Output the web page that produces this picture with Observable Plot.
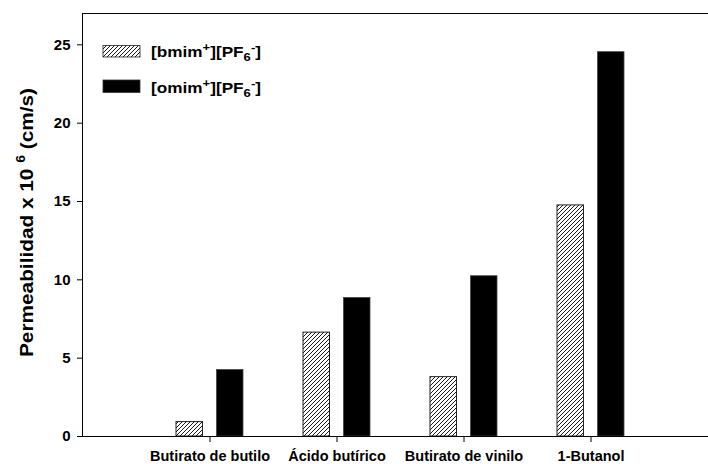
<!DOCTYPE html>
<html>
<head>
<meta charset="utf-8">
<script src="https://cdn.jsdelivr.net/npm/d3@7"></script>
<script src="https://cdn.jsdelivr.net/npm/@observablehq/plot@0.6"></script>
<style>
  html, body { margin: 0; padding: 0; background: #fff; overflow: hidden; }
  #chart { position: relative; width: 708px; height: 464px; }
</style>
</head>
<body>
<div id="chart"></div>
<script>
const categories = ["Butirato de butilo", "Ácido butírico", "Butirato de vinilo", "1-Butanol"];
const bmimValues = [0.92, 6.63, 3.79, 14.75];
const omimValues = [4.24, 8.84, 10.23, 24.53];
const yTicks = [0, 5, 10, 15, 20, 25];
const yMax = 27;

const bmimData = categories.map((c, i) => ({cat: c, value: bmimValues[i]}));
const omimData = categories.map((c, i) => ({cat: c, value: omimValues[i]}));

const font = '"Liberation Sans", Arial, Helvetica, sans-serif';

const svg = Plot.plot({
  width: 708,
  height: 464,
  marginLeft: 82,
  marginRight: 0,
  marginTop: 13,
  marginBottom: 28,
  style: {fontFamily: font, fontWeight: "bold", fontSize: "14px", color: "#000", background: "#fff", overflow: "visible"},
  x: {domain: categories, range: [82, 718.5], paddingInner: 0.47, paddingOuter: 0.733, label: null, tickSize: 6, tickPadding: 8},
  y: {domain: [0, yMax], ticks: yTicks, label: null, tickSize: 5, tickPadding: 7, line: true},
  marks: [
    Plot.barY(bmimData, {x: "cat", y: "value", fill: "url(#hatch)", stroke: "#222", strokeWidth: 1, insetRight: 40.5}),
    Plot.barY(omimData, {x: "cat", y: "value", fill: "#000", stroke: "#444", strokeWidth: 0.8, insetLeft: 40.5}),
    Plot.ruleY([0], {stroke: "#000", strokeWidth: 1.2}),
    Plot.ruleY([yMax], {stroke: "#000", strokeWidth: 1.2})
  ]
});

const s = d3.select(svg);
const defs = s.insert("defs", ":first-child");
const pat = defs.append("pattern")
  .attr("id", "hatch").attr("patternUnits", "userSpaceOnUse")
  .attr("width", 4).attr("height", 4);
pat.append("rect").attr("width", 4).attr("height", 4).attr("fill", "#fff");
pat.append("path").attr("d", "M-1,1 L1,-1 M0,4 L4,0 M3,5 L5,3")
  .attr("stroke", "#000").attr("stroke-width", 0.9);

// Tick label sizes
s.selectAll("g[aria-label='x-axis tick label'] text").attr("font-size", 14.5);
s.selectAll("g[aria-label='y-axis tick label'] text").attr("font-size", 15);

// Y axis title
const yl = s.append("text")
  .attr("transform", "translate(33,222.5) rotate(-90)")
  .attr("text-anchor", "middle")
  .attr("font-family", font).attr("font-weight", "bold").attr("font-size", 18)
  .attr("fill", "#000")
  .attr("textLength", 269).attr("lengthAdjust", "spacingAndGlyphs");
yl.append("tspan").text("Permeabilidad x 10 ");
yl.append("tspan").attr("font-size", 12).attr("dy", -8).text("6");
yl.append("tspan").attr("dy", 8).text(" (cm/s)");

// Legend
const legendItems = [
  {name: "bmim", fill: "url(#hatch)", stroke: "#222", y: 45.5, h: 11.5, base: 57},
  {name: "omim", fill: "#000", stroke: "#333", y: 80, h: 12.5, base: 93}
];
for (const it of legendItems) {
  s.append("rect").attr("x", 103).attr("y", it.y).attr("width", 37).attr("height", it.h)
    .attr("fill", it.fill).attr("stroke", it.stroke).attr("stroke-width", 0.8);
  const t = s.append("text").attr("x", 151).attr("y", it.base)
    .attr("text-anchor", "start")
    .attr("font-family", font).attr("font-weight", "bold").attr("font-size", 14.5).attr("fill", "#000")
    .attr("textLength", 110).attr("lengthAdjust", "spacingAndGlyphs");
  t.append("tspan").text("[" + it.name);
  t.append("tspan").attr("font-size", 11).attr("dy", -6).text("+");
  t.append("tspan").attr("dy", 6).text("][PF");
  t.append("tspan").attr("font-size", 11).attr("dy", 4).text("6");
  t.append("tspan").attr("font-size", 11).attr("dy", -10).text("-");
  t.append("tspan").attr("dy", 6).text("]");
}

document.getElementById("chart").appendChild(svg);
</script>
</body>
</html>
